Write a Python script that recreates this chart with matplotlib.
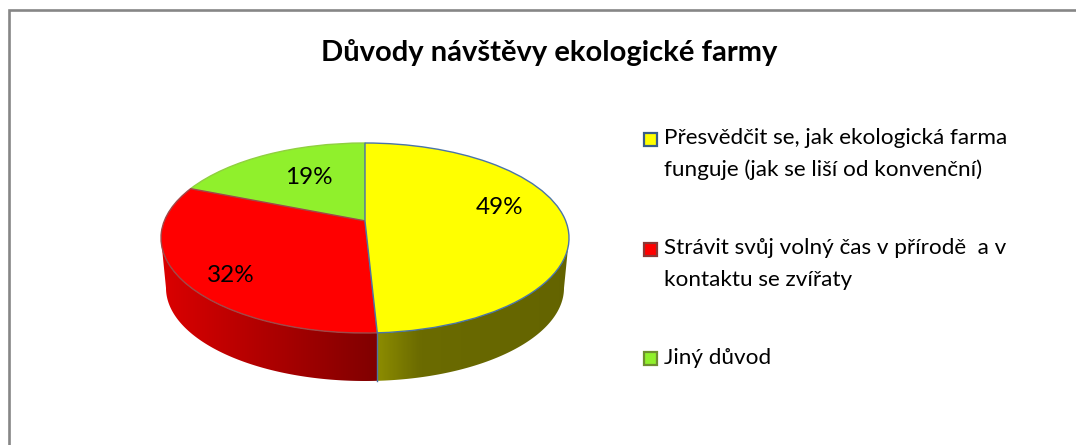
import numpy as np
import matplotlib
matplotlib.use("Agg")
import matplotlib.pyplot as plt
from matplotlib.colors import LinearSegmentedColormap
from matplotlib.patches import Polygon, Rectangle
from matplotlib.transforms import Transform

title = "Důvody návštěvy ekologické farmy"
categories = ["Přesvědčit se, jak ekologická farma\nfunguje (jak se liší od konvenční)",
              "Strávit svůj volný čas v přírodě  a v\nkontaktu se zvířaty",
              "Jiný důvod"]
values = [49.2, 31.9, 18.9]
colors = ["#FFFF00", "#FF0000", "#90F02C"]
edges = ["#4A74A8", "#A04848", "#90D040"]
key_edges = ["#385D8A", "#8C3836", "#6F8F30"]

W, H = 1076, 445
CX, CY, RX, RY = 365.0, 238.0, 204.0, 95.0
BCY, BRX, BRY = 288.0, 199.0, 93.0
TILT = 0.18


def project(s, t):
    d = 1 + TILT * t
    return s * np.sqrt(1 - TILT ** 2) / d, (t + TILT) / d


class TiltTransform(Transform):
    input_dims = output_dims = 2
    is_separable = False
    has_inverse = False

    def transform_non_affine(self, values):
        v = np.asarray(values, dtype=float)
        X, Y = project(v[:, 0], v[:, 1])
        return np.column_stack([CX + RX * X, CY - RY * Y])


fig = plt.figure(figsize=(W / 100, H / 100), dpi=100, facecolor="white")
ax = fig.add_axes([0, 0, 1, 1])
font = "Lato"

wedges, _, autotexts = ax.pie(values, colors=colors, startangle=90, counterclock=False,
                              autopct="%.0f%%", wedgeprops={"linewidth": 1.0},
                              textprops={"family": font, "fontsize": 17.5})
tilt = TiltTransform() + ax.transData
for w, e, z in zip(wedges, edges, [5, 4, 3]):
    w.set_transform(tilt)
    w.set_edgecolor(e)
    w.set_zorder(z)

label_pos = [(500, 208), (231, 276), (309, 177)]
for t, p in zip(autotexts, label_pos):
    t.set_position(p)
    t.set_zorder(6)
    t.set_ha("center")
    t.set_va("center")

# side wall, split where the first boundary meets the front rim
theta = 2 * np.pi * values[0] / sum(values)
X, Y = project(np.sin(theta), np.cos(theta))
phi_b = np.arctan2(X, Y) % (2 * np.pi)


def wall(p0, p1):
    phi = np.linspace(p0, p1, 120)
    top = np.column_stack([CX + RX * np.sin(phi), CY - RY * np.cos(phi)])
    bot = np.column_stack([CX + BRX * np.sin(phi), BCY - BRY * np.cos(phi)])
    return np.vstack([top, bot[::-1]])


walls = [
    (wall(np.pi / 2, phi_b), [(0, (0.55, 0.55, 0)), (0.22, (0.42, 0.42, 0)), (1, (0.39, 0.39, 0))]),
    (wall(phi_b, 3 * np.pi / 2), [(0, (0.86, 0, 0)), (1, (0.50, 0, 0))]),
]
grad = np.linspace(0, 1, 256).reshape(1, -1)
for pts, stops in walls:
    x0, x1 = pts[:, 0].min(), pts[:, 0].max()
    y0, y1 = pts[:, 1].min(), pts[:, 1].max()
    cmap = LinearSegmentedColormap.from_list("w", stops)
    poly = Polygon(pts, closed=True, transform=ax.transData, fc="none", ec="none")
    ax.add_patch(poly)
    im = ax.imshow(grad, extent=(x0, x1, y1, y0), aspect="auto", cmap=cmap, zorder=2, vmin=0, vmax=1)
    im.set_clip_path(poly)
ax.plot([CX + RX * np.sin(phi_b)] * 2, [CY - RY * np.cos(phi_b), BCY - BRY * np.cos(phi_b)],
        color="#4A74A8", lw=1.0, zorder=3)

ax.set_aspect("auto")
ax.set_xlim(0, W)
ax.set_ylim(H, 0)
ax.axis("off")

# frame
ax.plot([8.5, 8.5, W], [H, 10, 10], color="#868686", lw=1.9, solid_joinstyle="miter", zorder=1)

ax.text(549, 53, title, family=font, fontsize=21, fontweight="bold", ha="center", va="center", color="black")

# legend
key_y = [139, 249.5, 358.5]
text_y = [138, 248, 358]
for c, ke, lab, ky, ty in zip(colors, key_edges, categories, key_y, text_y):
    ax.add_patch(Rectangle((644, ky - 6.5), 12.5, 13, fc=c, ec=ke, lw=1.6, zorder=5))
    for i, line in enumerate(lab.split("\n")):
        ax.text(664, ty + i * 31.5, line, family=font, fontsize=16.2, ha="left", va="center", color="black")

fig.savefig("out.png", dpi=100, facecolor="white")
